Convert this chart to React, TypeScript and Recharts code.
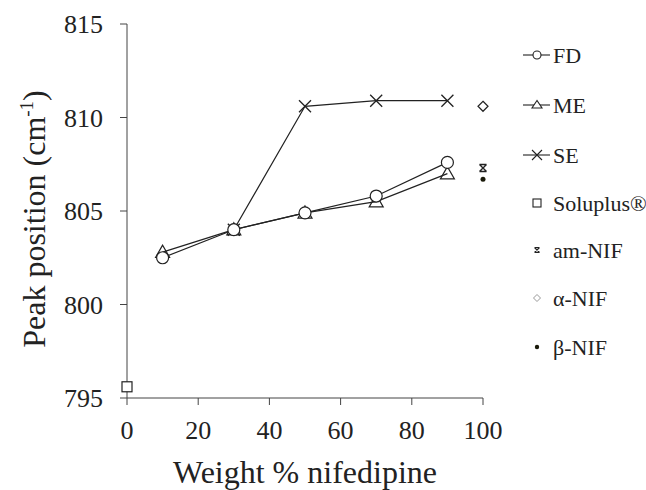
import React from 'react';
import { ScatterChart, Scatter, XAxis, YAxis } from 'recharts';

const weights = [10, 30, 50, 70, 90];
const fdValues = [802.5, 804.0, 804.9, 805.8, 807.6];
const meValues = [802.8, 804.0, 804.9, 805.5, 807.0];
const seWeights = [30, 50, 70, 90];
const seValues = [804.0, 810.6, 810.9, 810.9];
const soluplusPoint = [0, 795.6];
const amNifPoint = [100, 807.3];
const alphaNifPoint = [100, 810.6];
const betaNifPoint = [100, 806.7];
const xTicks = [0, 20, 40, 60, 80, 100];
const yTicks = [795, 800, 805, 810, 815];
const legendLabels = ['FD', 'ME', 'SE', 'Soluplus®', 'am-NIF', 'α-NIF', 'β-NIF'];

const fdData = weights.map((x, i) => ({ x, y: fdValues[i] }));
const meData = weights.map((x, i) => ({ x, y: meValues[i] }));
const seData = seWeights.map((x, i) => ({ x, y: seValues[i] }));
const soluplusData = [{ x: soluplusPoint[0], y: soluplusPoint[1] }];
const amNifData = [{ x: amNifPoint[0], y: amNifPoint[1] }];
const alphaNifData = [{ x: alphaNifPoint[0], y: alphaNifPoint[1] }];
const betaNifData = [{ x: betaNifPoint[0], y: betaNifPoint[1] }];

const FONT = '"Liberation Serif", "Times New Roman", serif';
const INK = '#222';

const circleShape = (p: any) => (
  <circle cx={p.cx} cy={p.cy} r={6} fill="#fff" stroke={INK} strokeWidth={1.2} />
);
const triangleShape = (p: any) => {
  const s = 7;
  return (
    <polygon
      points={`${p.cx},${p.cy - s} ${p.cx - s},${p.cy + s * 0.75} ${p.cx + s},${p.cy + s * 0.75}`}
      fill="none"
      stroke={INK}
      strokeWidth={1.2}
    />
  );
};
const crossShape = (p: any) => {
  const s = 6;
  return (
    <path
      d={`M${p.cx - s},${p.cy - s}L${p.cx + s},${p.cy + s}M${p.cx - s},${p.cy + s}L${p.cx + s},${p.cy - s}`}
      stroke={INK}
      strokeWidth={1.3}
      fill="none"
    />
  );
};
const squareShape = (p: any) => (
  <rect x={p.cx - 5} y={p.cy - 5} width={10} height={10} fill="#fff" stroke={INK} strokeWidth={1.2} />
);
const amShape = (p: any) => {
  const s = 3.5;
  return (
    <path
      d={`M${p.cx - s},${p.cy - s}L${p.cx + s},${p.cy + s}M${p.cx - s},${p.cy + s}L${p.cx + s},${p.cy - s}M${p.cx - s},${p.cy - s}L${p.cx + s},${p.cy - s}M${p.cx - s},${p.cy + s}L${p.cx + s},${p.cy + s}`}
      stroke={INK}
      strokeWidth={1.4}
      fill="none"
    />
  );
};
const diamondShape = (p: any) => {
  const s = 5;
  return (
    <polygon
      points={`${p.cx},${p.cy - s} ${p.cx + s},${p.cy} ${p.cx},${p.cy + s} ${p.cx - s},${p.cy}`}
      fill="#fff"
      stroke={INK}
      strokeWidth={1.2}
    />
  );
};
const dotShape = (p: any) => <circle cx={p.cx} cy={p.cy} r={2.5} fill="#1a1a0a" />;

const LegendContent = () => {
  const ys = [20, 70, 120, 168, 215, 263, 312];
  const mx = 22;
  const tx = 38;
  const sw = 1.1;
  return (
    <svg width={131} height={340} style={{ overflow: 'visible', display: 'block' }}>
      <line x1={8} x2={35} y1={ys[0]} y2={ys[0]} stroke={INK} strokeWidth={sw} />
      <circle cx={mx} cy={ys[0]} r={4} fill="#fff" stroke={INK} strokeWidth={sw} />
      <line x1={8} x2={35} y1={ys[1]} y2={ys[1]} stroke={INK} strokeWidth={sw} />
      <polygon points={`${mx},${ys[1] - 4.5} ${mx - 5},${ys[1] + 3} ${mx + 5},${ys[1] + 3}`} fill="#fff" stroke={INK} strokeWidth={sw} />
      <line x1={8} x2={35} y1={ys[2]} y2={ys[2]} stroke={INK} strokeWidth={sw} />
      <path d={`M${mx - 5},${ys[2] - 5}L${mx + 5},${ys[2] + 5}M${mx - 5},${ys[2] + 5}L${mx + 5},${ys[2] - 5}`} stroke={INK} strokeWidth={sw} />
      <rect x={mx - 4} y={ys[3] - 4} width={8} height={8} fill="#fff" stroke={INK} strokeWidth={sw} />
      <path d={`M${mx - 2.5},${ys[4] - 2.5}L${mx + 2.5},${ys[4] + 2.5}M${mx - 2.5},${ys[4] + 2.5}L${mx + 2.5},${ys[4] - 2.5}M${mx - 2.5},${ys[4] - 2.5}L${mx + 2.5},${ys[4] - 2.5}M${mx - 2.5},${ys[4] + 2.5}L${mx + 2.5},${ys[4] + 2.5}`} stroke={INK} strokeWidth={1.2} />
      <polygon points={`${mx},${ys[5] - 3.5} ${mx + 3.5},${ys[5]} ${mx},${ys[5] + 3.5} ${mx - 3.5},${ys[5]}`} fill="#fff" stroke="#999" strokeWidth={1} />
      <circle cx={mx} cy={ys[6]} r={2.2} fill="#1a1a0a" />
      {legendLabels.map((t, i) => (
        <text key={t} x={tx} y={ys[i]} dy="0.35em" fontSize={22} fontFamily={FONT} fill={INK}>
          {t}
        </text>
      ))}
    </svg>
  );
};

const YLabel = () => (
  <text
    x={45}
    y={219}
    transform="rotate(-90, 45, 219)"
    textAnchor="middle"
    fontSize={32}
    fontFamily={FONT}
    fill={INK}
  >
    Peak position (cm
    <tspan dy={-12} fontSize={19}>-1</tspan>
    <tspan dy={12}>)</tspan>
  </text>
);

export default function App() {
  const tickStyle = { fontSize: 26, fill: INK, fontFamily: FONT };
  return (
    <div style={{ position: 'absolute', left: 0, top: 0, width: 646, height: 490, background: '#fff', overflow: 'hidden' }}>
      <ScatterChart width={646} height={490} margin={{ top: 24, right: 163, bottom: 0, left: 0 }}>
        <XAxis
          type="number"
          dataKey="x"
          domain={[0, 100]}
          ticks={xTicks}
          height={92}
          tickSize={7}
          tickMargin={16}
          tick={tickStyle}
          stroke="#444"
          tickLine={{ stroke: '#444' }}
          label={{ value: 'Weight % nifedipine', position: 'insideBottom', offset: 7, style: { fontSize: 32, fill: INK, fontFamily: FONT } }}
        />
        <YAxis
          type="number"
          dataKey="y"
          domain={[795, 815]}
          ticks={yTicks}
          width={127}
          tickSize={7}
          tickMargin={17}
          tick={tickStyle}
          stroke="#444"
          tickLine={{ stroke: '#444' }}
          label={{ content: () => <YLabel /> }}
        />
        <Scatter data={seData} line={{ stroke: INK, strokeWidth: 1.2 }} shape={crossShape} isAnimationActive={false} />
        <Scatter data={meData} line={{ stroke: INK, strokeWidth: 1.2 }} shape={triangleShape} isAnimationActive={false} />
        <Scatter data={fdData} line={{ stroke: INK, strokeWidth: 1.2 }} shape={circleShape} isAnimationActive={false} />
        <Scatter data={soluplusData} shape={squareShape} isAnimationActive={false} />
        <Scatter data={amNifData} shape={amShape} isAnimationActive={false} />
        <Scatter data={alphaNifData} shape={diamondShape} isAnimationActive={false} />
        <Scatter data={betaNifData} shape={dotShape} isAnimationActive={false} />
      </ScatterChart>
      <div style={{ position: 'absolute', left: 515, top: 35, width: 131, height: 340 }}>
        <LegendContent />
      </div>
    </div>
  );
}
